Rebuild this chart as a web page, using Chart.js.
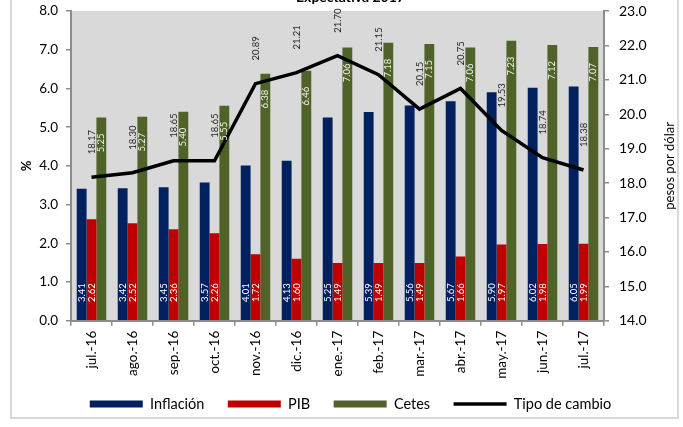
<!DOCTYPE html>
<html><head><meta charset="utf-8">
<script src="https://cdn.jsdelivr.net/npm/chart.js@4/dist/chart.umd.min.js"></script>
<style>
html,body{margin:0;padding:0;background:#fff;width:683px;height:427px;overflow:hidden;position:relative}
#frame{position:absolute;left:10px;top:-10px;width:669px;height:429px;border:2px solid #d9d9d9;box-sizing:border-box}
#wrap{position:absolute;left:0;top:-11px;width:683px;height:438px}
</style></head><body>
<div id="frame"></div>
<div id="wrap"><canvas id="c" width="683" height="438"></canvas></div>
<script>
const categories = ['jul.-16','ago.-16','sep.-16','oct.-16','nov.-16','dic.-16','ene.-17','feb.-17','mar.-17','abr.-17','may.-17','jun.-17','jul.-17'];
const inflacion = [3.41,3.42,3.45,3.57,4.01,4.13,5.25,5.39,5.56,5.67,5.90,6.02,6.05];
const pib = [2.62,2.52,2.36,2.26,1.72,1.60,1.49,1.49,1.49,1.66,1.97,1.98,1.99];
const cetes = [5.25,5.27,5.40,5.55,6.38,6.46,7.06,7.18,7.15,7.06,7.23,7.12,7.07];
const tipoCambio = [18.17,18.30,18.65,18.65,20.89,21.21,21.70,21.15,20.15,20.75,19.53,18.74,18.38];
const seriesNames = ['Inflación','PIB','Cetes','Tipo de cambio'];
const chartTitle = 'Expectativa 2017';
const leftTitle = '%';
const rightTitle = 'pesos por dólar';

Chart.defaults.font.family = 'Lato';
Chart.defaults.color = '#000';

const AXIS = '#8c8c8c';
const valFont = '9.5px Lato';

function vtext(ctx, txt, x, y, align, color, font) {
  ctx.save();
  ctx.translate(x, y);
  ctx.rotate(-Math.PI / 2);
  ctx.textAlign = align;
  ctx.textBaseline = 'middle';
  ctx.fillStyle = color;
  ctx.font = font || valFont;
  ctx.fillText(txt, 0, 0);
  ctx.restore();
}

const bgPlugin = {
  id: 'bg',
  beforeDraw(chart) {
    const {ctx, chartArea: a} = chart;
    ctx.save();
    ctx.fillStyle = '#d9d9d9';
    ctx.fillRect(a.left, a.top, a.right - a.left, a.bottom - a.top);
    ctx.restore();
  }
};

const labelPlugin = {
  id: 'vals',
  afterDatasetsDraw(chart) {
    const ctx = chart.ctx;
    chart.data.datasets.forEach((ds, di) => {
      const meta = chart.getDatasetMeta(di);
      meta.data.forEach((el, i) => {
        const v = ds.data[i].toFixed(2);
        if (di === 0 || di === 1) {
          vtext(ctx, v, el.x, el.base - 18, 'left', '#ffffff');
        } else if (di === 2) {
          vtext(ctx, v, el.x, el.y + 16, 'right', '#f2f2f2');
        } else {
          vtext(ctx, v, el.x, el.y - 23, 'left', '#262626');
        }
      });
    });
    const a = chart.chartArea;
    vtext(ctx, rightTitle, 670, (a.top + a.bottom) / 2, 'center', '#000', '13px Lato');
  }
};

new Chart(document.getElementById('c'), {
  type: 'bar',
  data: {
    labels: categories,
    datasets: [
      {label: seriesNames[0], data: inflacion, backgroundColor: '#002060', borderWidth: 0, pointStyle: 'rect', order: 1, yAxisID: 'y'},
      {label: seriesNames[1], data: pib, backgroundColor: '#c00000', borderWidth: 0, pointStyle: 'rect', order: 1, yAxisID: 'y'},
      {label: seriesNames[2], data: cetes, backgroundColor: '#4f6228', borderWidth: 0, pointStyle: 'rect', order: 1, yAxisID: 'y'},
      {type: 'line', label: seriesNames[3], data: tipoCambio, borderColor: '#000', backgroundColor: '#000', borderWidth: 3.5, pointRadius: 0, pointHoverRadius: 0, pointStyle: 'line', tension: 0, order: 0, yAxisID: 'y1'}
    ]
  },
  options: {
    responsive: false,
    animation: false,
    events: [],
    datasets: {bar: {categoryPercentage: 0.72, barPercentage: 1}},
    layout: {padding: {left: 18, right: 0, top: 0, bottom: 5.75}},
    plugins: {
      title: {display: true, text: chartTitle, font: {size: 14, weight: 'bold'}, color: '#000', padding: {top: 0, bottom: 5.2}},
      legend: {
        position: 'bottom',
        labels: {
          usePointStyle: true, pointStyleWidth: 53, boxHeight: 7, padding: 16, font: {size: 14.5}, color: '#000',
          sort: (a, b) => a.datasetIndex - b.datasetIndex,
          generateLabels(chart) {
            const items = Chart.defaults.plugins.legend.labels.generateLabels(chart);
            items.forEach(it => { if (it.datasetIndex < 3) it.text = it.text + '  '; });
            return items;
          }
        }
      },
      tooltip: {enabled: false}
    },
    scales: {
      x: {
        grid: {display: true, drawOnChartArea: false, drawTicks: true, tickLength: 5, color: AXIS, lineWidth: 1.5, offset: true},
        border: {color: AXIS, width: 2},
        ticks: {minRotation: 90, maxRotation: 90, autoSkip: false, padding: 5, font: {size: 13.5}, color: '#000'},
        afterFit(s) { s.height = 60; }
      },
      y: {
        position: 'left', min: 0, max: 8,
        grid: {drawOnChartArea: false, drawTicks: true, tickLength: 5, color: AXIS, lineWidth: 1.5},
        border: {color: AXIS, width: 2},
        ticks: {stepSize: 1, padding: 8, font: {size: 13.5}, color: '#000', callback: v => v.toFixed(1)},
        title: {display: true, text: leftTitle, font: {size: 13, weight: 'bold'}, color: '#000', padding: {top: 1, bottom: 0}},
        afterFit(s) { s.width = 53; }
      },
      y1: {
        position: 'right', min: 14, max: 23,
        grid: {drawOnChartArea: false, drawTicks: true, tickLength: 5, color: AXIS, lineWidth: 1.5},
        border: {color: AXIS, width: 2},
        ticks: {stepSize: 1, padding: 10, font: {size: 14}, color: '#000', callback: v => v.toFixed(1)},
        afterFit(s) { s.width = 79; }
      }
    }
  },
  plugins: [bgPlugin, labelPlugin]
});
</script>
</body></html>
